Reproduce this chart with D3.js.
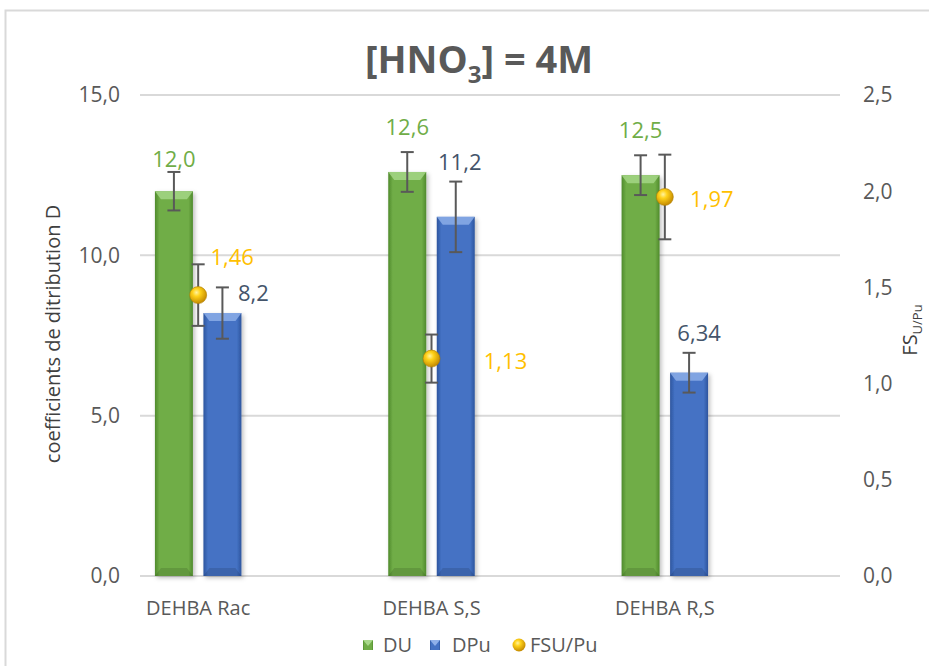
<!DOCTYPE html>
<html><head><meta charset="utf-8">
<script src="https://cdn.jsdelivr.net/npm/d3@7"></script>
<style>
body{margin:0;background:#fff;}
text{font-family:"Open Sans","Noto Sans",sans-serif;}
</style></head>
<body>
<svg id="c" width="929" height="666"></svg>
<script>
// ---- data ----
const categories = ["DEHBA Rac", "DEHBA S,S", "DEHBA R,S"];
const DU = [12.0, 12.6, 12.5];
const DU_err = [0.6, 0.62, 0.62];
const DPu = [8.2, 11.2, 6.34];
const DPu_err = [0.8, 1.1, 0.62];
const FS = [1.46, 1.13, 1.97];
const FS_err = [0.16, 0.125, 0.22];
const DU_labels = ["12,0", "12,6", "12,5"];
const DPu_labels = ["8,2", "11,2", "6,34"];
const FS_labels = ["1,46", "1,13", "1,97"];
const leftTicks = [0, 5, 10, 15];
const rightTicks = [0, 0.5, 1, 1.5, 2, 2.5];
const legendItems = ["DU", "DPu", "FSU/Pu"];

// ---- layout ----
const svg = d3.select("#c");
const plotTop = 95, plotBottom = 576, gridL = 140, gridR = 840;
const x = d3.scaleBand().domain(categories).range([81.5, 781.5]);
const yL = d3.scaleLinear().domain([0, 15]).range([plotBottom, plotTop]);
const yR = d3.scaleLinear().domain([0, 2.5]).range([plotBottom, plotTop]);
const barW = 38, barGap = 10.5;
const fmt = d3.format(".1f");
const comma = v => fmt(v).replace(".", ",");

const defs = svg.append("defs");
function barGrad(id, mid, dark) {
  const g = defs.append("linearGradient").attr("id", id).attr("x1", 0).attr("x2", 1).attr("y1", 0).attr("y2", 0);
  g.append("stop").attr("offset", "0").attr("stop-color", dark);
  g.append("stop").attr("offset", "0.12").attr("stop-color", mid);
  g.append("stop").attr("offset", "0.88").attr("stop-color", mid);
  g.append("stop").attr("offset", "1").attr("stop-color", dark);
}
barGrad("gG", "#70AD47", "#4f8a2c");
barGrad("gB", "#4472C4", "#2d559e");
const rg = defs.append("radialGradient").attr("id", "gold").attr("cx", "0.4").attr("cy", "0.35").attr("r", "0.65");
rg.append("stop").attr("offset", "0").attr("stop-color", "#fff3a0");
rg.append("stop").attr("offset", "0.35").attr("stop-color", "#ffd21a");
rg.append("stop").attr("offset", "1").attr("stop-color", "#c48a00");
const sh = defs.append("filter").attr("id", "sh").attr("x", "-20%").attr("y", "-20%").attr("width", "160%").attr("height", "140%");
sh.append("feDropShadow").attr("dx", 2).attr("dy", 2).attr("stdDeviation", 2).attr("flood-color", "#000").attr("flood-opacity", 0.25);

// frame
svg.append("rect").attr("x", 5.5).attr("y", 10.5).attr("width", 940).attr("height", 700)
  .attr("fill", "none").attr("stroke", "#d9d9d9").attr("stroke-width", 2);

// gridlines
svg.append("g").selectAll("line").data(leftTicks).join("line")
  .attr("x1", gridL).attr("x2", gridR).attr("y1", d => yL(d)).attr("y2", d => yL(d))
  .attr("stroke", "#d9d9d9").attr("stroke-width", 2);

// left axis labels
svg.append("g").selectAll("text").data(leftTicks).join("text")
  .attr("x", 120).attr("y", d => yL(d)).attr("dy", "0.35em").attr("text-anchor", "end")
  .attr("font-size", 21).attr("fill", "#595959").text(d => comma(d));
// right axis labels
svg.append("g").selectAll("text").data(rightTicks).join("text")
  .attr("x", 863).attr("y", d => yR(d)).attr("dy", "0.35em").attr("text-anchor", "start")
  .attr("font-size", 21).attr("fill", "#595959").text(d => comma(d));

// category labels
svg.append("g").selectAll("text").data(categories).join("text")
  .attr("x", d => x(d) + x.bandwidth() / 2).attr("y", 608).attr("dy", "0.35em")
  .attr("text-anchor", "middle").attr("font-size", 20).attr("fill", "#595959").text(d => d);

// axis titles
svg.append("text").attr("transform", "translate(53,334) rotate(-90)").attr("text-anchor", "middle")
  .attr("dy", "0.35em").attr("font-size", 20).attr("fill", "#404040").text("coefficients de ditribution D");
const rt = svg.append("text").attr("transform", "translate(910,330) rotate(-90)").attr("text-anchor", "middle")
  .attr("dy", "0.35em").attr("font-size", 20).attr("fill", "#404040");
rt.append("tspan").text("FS");
rt.append("tspan").attr("font-size", 13).attr("dy", "0.35em").text("U/Pu");

// title
const tt = svg.append("text").attr("x", 479).attr("y", 73).attr("text-anchor", "middle")
  .attr("font-size", 38).attr("font-weight", "bold").attr("fill", "#595959");
tt.append("tspan").text("[HNO");
tt.append("tspan").attr("font-size", 24).attr("dy", 10).text("3");
tt.append("tspan").attr("dy", -10).text("] = 4M");

// bars
function drawBars(vals, dx, fillId, bevel) {
  const g = svg.append("g");
  categories.forEach((c, i) => {
    const cx = x(c) + x.bandwidth() / 2;
    const x0 = cx + dx, y0 = yL(vals[i]), h = plotBottom - y0;
    g.append("rect").attr("x", x0).attr("y", y0).attr("width", barW).attr("height", h)
      .attr("fill", `url(#${fillId})`).attr("filter", "url(#sh)");
    g.append("path").attr("d", `M${x0},${y0}L${x0 + barW},${y0}L${x0 + barW - 6},${y0 + 8}L${x0 + 6},${y0 + 8}Z`)
      .attr("fill", bevel).attr("opacity", 0.8);
    g.append("path").attr("d", `M${x0},${plotBottom}L${x0 + barW},${plotBottom}L${x0 + barW - 6},${plotBottom - 8}L${x0 + 6},${plotBottom - 8}Z`)
      .attr("fill", "#000").attr("opacity", 0.12);
  });
}
drawBars(DU, -barW - barGap / 2, "gG", "#a8d88a");
drawBars(DPu, barGap / 2, "gB", "#8fb0ea");

// error bars
function errBar(cx, yTop, yBot) {
  const g = svg.append("g").attr("stroke", "#595959").attr("stroke-width", 2);
  g.append("line").attr("x1", cx).attr("x2", cx).attr("y1", yTop).attr("y2", yBot);
  g.append("line").attr("x1", cx - 6.5).attr("x2", cx + 6.5).attr("y1", yTop).attr("y2", yTop);
  g.append("line").attr("x1", cx - 6.5).attr("x2", cx + 6.5).attr("y1", yBot).attr("y2", yBot);
}
categories.forEach((c, i) => {
  const cx = x(c) + x.bandwidth() / 2;
  errBar(cx - barW / 2 - barGap / 2, yL(DU[i] + DU_err[i]), yL(DU[i] - DU_err[i]));
  errBar(cx + barW / 2 + barGap / 2, yL(DPu[i] + DPu_err[i]), yL(DPu[i] - DPu_err[i]));
  errBar(cx, yR(FS[i] + FS_err[i]), yR(FS[i] - FS_err[i]));
});

// FS markers
svg.append("g").selectAll("circle").data(FS).join("circle")
  .attr("cx", (d, i) => x(categories[i]) + x.bandwidth() / 2).attr("cy", d => yR(d)).attr("r", 8.5)
  .attr("fill", "url(#gold)").attr("stroke", "#b07d00").attr("stroke-width", 0.6);

// data labels (offsets = label placement relative to mark)
const DU_lblOff = [[0, -32], [0, -45], [0, -45]];
const DPu_lblOff = [[31, -20], [4, -55], [10, -39]];
const FS_lblOff = [[34, -38], [74, 3], [47, 2]];
categories.forEach((c, i) => {
  const cx = x(c) + x.bandwidth() / 2;
  const gx = cx - barW / 2 - barGap / 2, bx = cx + barW / 2 + barGap / 2;
  svg.append("text").attr("x", gx + DU_lblOff[i][0]).attr("y", yL(DU[i]) + DU_lblOff[i][1]).attr("dy", "0.35em")
    .attr("text-anchor", "middle").attr("font-size", 22).attr("fill", "#70AD47").text(DU_labels[i]);
  svg.append("text").attr("x", bx + DPu_lblOff[i][0]).attr("y", yL(DPu[i]) + DPu_lblOff[i][1]).attr("dy", "0.35em")
    .attr("text-anchor", "middle").attr("font-size", 22).attr("fill", "#44546A").text(DPu_labels[i]);
  svg.append("text").attr("x", cx + FS_lblOff[i][0]).attr("y", yR(FS[i]) + FS_lblOff[i][1]).attr("dy", "0.35em")
    .attr("text-anchor", "middle").attr("font-size", 22).attr("fill", "#FFC000").text(FS_labels[i]);
});

// legend
const lg = svg.append("g");
const legX = [368, 435, 519];
const legTx = [383, 452, 530];
legendItems.forEach((t, i) => {
  const lx = legX[i], ly = 645;
  if (i < 2) {
    lg.append("rect").attr("x", lx - 5).attr("y", ly - 5).attr("width", 10).attr("height", 10)
      .attr("fill", `url(#${i === 0 ? "gG" : "gB"})`);
    lg.append("path").attr("d", `M${lx - 5},${ly - 5}L${lx + 5},${ly - 5}L${lx},${ly + 1}Z`).attr("fill", i === 0 ? "#a8d88a" : "#8fb0ea");
  } else {
    lg.append("circle").attr("cx", lx).attr("cy", ly).attr("r", 6.5).attr("fill", "url(#gold)");
  }
  lg.append("text").attr("x", legTx[i]).attr("y", ly).attr("dy", "0.35em").attr("font-size", 20)
    .attr("fill", "#595959").text(t);
});
</script>
</body></html>
